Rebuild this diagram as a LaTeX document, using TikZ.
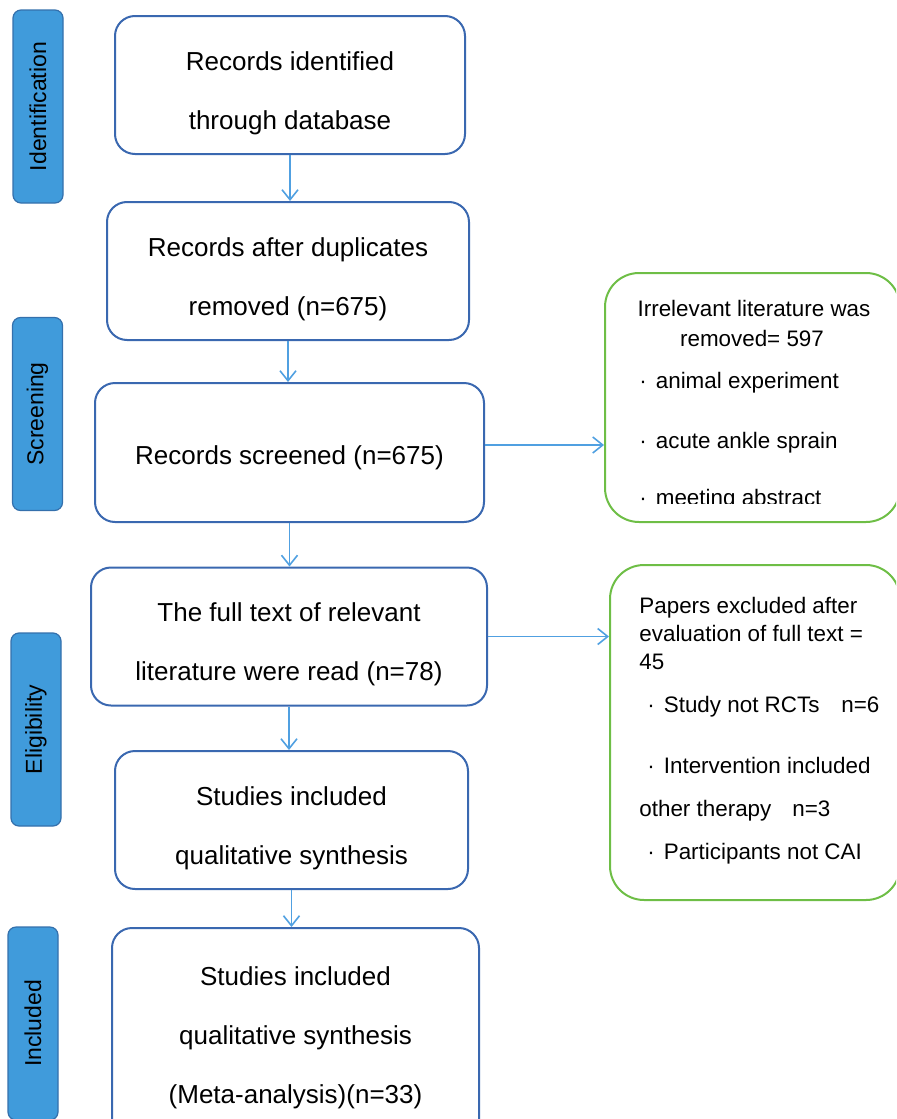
\documentclass[tikz,border=0pt]{standalone}
\usepackage{fontspec}
\setmainfont{Liberation Sans}
\usetikzlibrary{arrows.meta,positioning}
\definecolor{boxblue}{RGB}{58,104,176}
\definecolor{arrowblue}{RGB}{80,160,225}
\definecolor{barblue}{RGB}{64,155,219}
\definecolor{barline}{RGB}{52,112,172}
\definecolor{exgreen}{RGB}{110,190,70}
\newcommand{\bul}{·\hspace{4.5pt}}

\begin{document}
\begin{tikzpicture}[
    x=0.5pt, y=-0.5pt,
    stage/.style={rectangle, rounded corners=4pt, draw=barline, fill=barblue, line width=0.6pt, rotate=90, minimum width=96.5pt, minimum height=25pt, inner sep=0pt, font=\fontsize{11.5}{14}\selectfont},
    flowbox/.style={rectangle, rounded corners=10pt, draw=boxblue, line width=1pt, align=center, inner sep=0pt, minimum height=69pt, text depth=0pt, font=\fontsize{13}{29.5}\selectfont},
    twolines/.style={text height=44pt},
    exbox/.style={rectangle, rounded corners=17pt, draw=exgreen, line width=1pt, inner sep=0pt},
    extext/.style={anchor=west, inner sep=0pt, font=\fontsize{11.2}{14}\selectfont},
    flow/.style={draw=arrowblue, line width=0.8pt, -{Straight Barb[length=5pt,width=8pt]}}
]
\clip (0,0) rectangle (896,1119);

% Stages on the left
\node[stage] (idn) at (38,106.5) {Identification};
\node[stage] (scr) at (37.5,414) {Screening};
\node[stage] (elg) at (36,729.5) {Eligibility};
\node[stage] (inc) at (33,1023.5) {Included};

% Main flow
\node[flowbox, twolines, minimum width=175pt] (ident) at (290,85) {Records identified\\through database};
\node[flowbox, twolines, minimum width=181pt] (dup) at (288,271) {Records after duplicates\\removed (n=675)};
\node[flowbox, minimum width=194.5pt, minimum height=69.5pt, text height=11.5pt] (screen) at (289.5,452.5) {Records screened (n=675)};
\node[flowbox, twolines, minimum width=198pt] (full) at (289,636.5) {The full text of relevant\\literature were read (n=78)};
\node[flowbox, twolines, minimum width=176.5pt] (qual) at (291.5,820) {Studies included\\qualitative synthesis};
\node[flowbox, minimum width=183.5pt, minimum height=107pt] (meta) at (295.5,1035) {Studies included\\qualitative synthesis\\(Meta-analysis)(n=33)};

\draw[flow] (ident.south) -- (ident.south |- dup.north);
\draw[flow] (dup.south) -- (dup.south |- screen.north);
\draw[flow] (screen.south) -- (screen.south |- full.north);
\draw[flow] (full.south) -- (full.south |- qual.north);
\draw[flow] (qual.south) -- (qual.south |- meta.north);

% Exclusions
\node[exbox, minimum width=147.5pt, minimum height=124.5pt] (irrel) at (752.5,397.5) {};
\node[extext, anchor=center] (irrel1) at (754,308) {Irrelevant literature was};
\node[extext, anchor=center] (irrel2) at (752,338) {removed= 597};
\node[extext] (irrel3) at (639,383) {\bul animal experiment};
\node[extext] (irrel4) at (639,443) {\bul acute ankle sprain};
\begin{scope}
    \clip (600,250) rectangle (896,503);
    \node[extext] (irrel5) at (639,500) {\bul meeting abstract};
\end{scope}

\node[exbox, minimum width=145pt, minimum height=167.5pt] (excl) at (755,732.5) {};
\node[extext, align=left] (excl1) at (639,633) {Papers excluded after\\evaluation of full text =\\45};
\node[extext] (excl2) at (647,707) {\bul Study not RCTs\hspace{11pt}n=6};
\node[extext] (excl3) at (647,765) {\bul Intervention included};
\node[extext] (excl4) at (639,811) {other therapy\hspace{10.5pt}n=3};
\node[extext] (excl5) at (647,854) {\bul Participants not CAI};

\draw[flow] ([yshift=3.75pt]screen.east) -- ([yshift=3.75pt]screen.east -| irrel.west);
\draw[flow] (full.east) -- (full.east -| excl.west);
\end{tikzpicture}
\end{document}
